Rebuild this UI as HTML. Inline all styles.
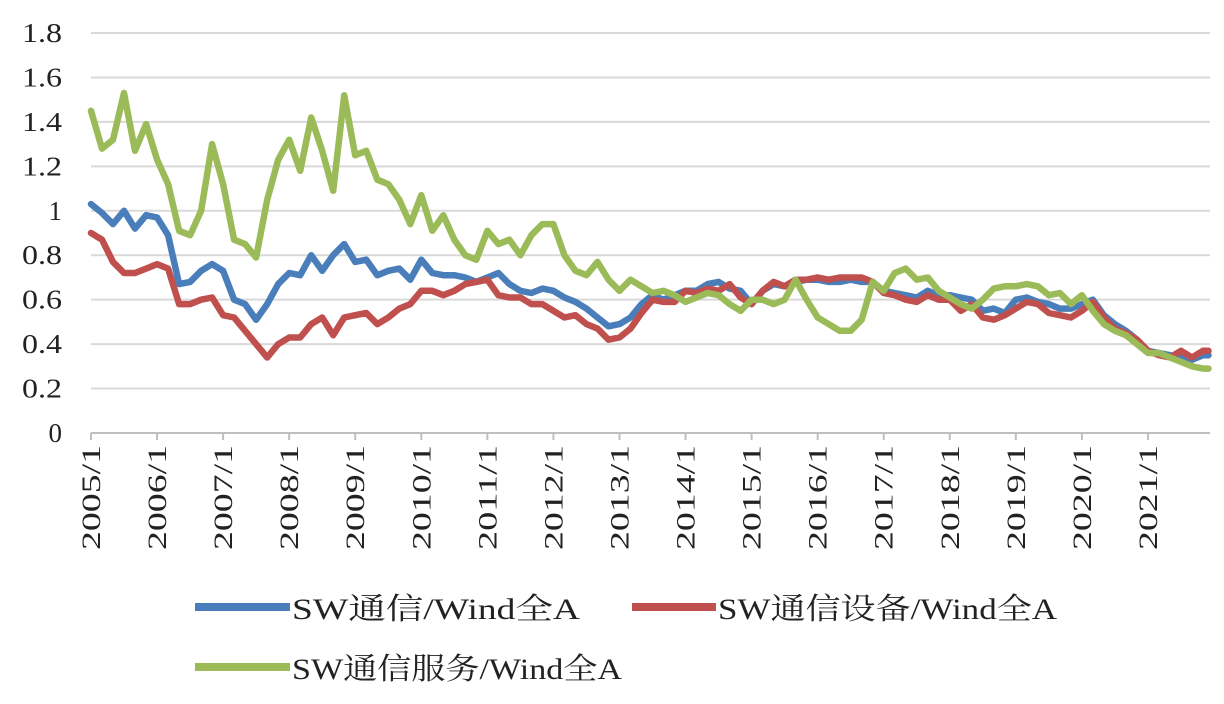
<!DOCTYPE html>
<html><head><meta charset="utf-8">
<style>
html,body{margin:0;padding:0;background:#fff;}
svg text{font-family:"Liberation Serif","Noto Serif CJK SC",serif;fill:#222;}
</style></head>
<body>
<svg id="chart" width="1224" height="699" viewBox="0 0 1224 699" xmlns="http://www.w3.org/2000/svg">
<g id="grid"></g>
<g id="yaxis"></g>
<g id="xaxis"></g>
<g id="series"></g>
<g>
  <g>
    <line x1="195" y1="607" x2="290" y2="607" stroke="#4a7ebb" stroke-width="8"/>
    <text x="292" y="619" font-size="30" textLength="288" lengthAdjust="spacingAndGlyphs">SW通信/Wind全A</text>
  </g>
  <g>
    <line x1="632" y1="607" x2="716" y2="607" stroke="#c0504d" stroke-width="8"/>
    <text x="718" y="619" font-size="30" textLength="339" lengthAdjust="spacingAndGlyphs">SW通信设备/Wind全A</text>
  </g>
  <g>
    <line x1="195" y1="667" x2="290" y2="667" stroke="#9bbb59" stroke-width="8"/>
    <text x="292" y="679" font-size="30" textLength="330" lengthAdjust="spacingAndGlyphs">SW通信服务/Wind全A</text>
  </g>
</g>
</svg>
<script>
const yTicks = [0,0.2,0.4,0.6,0.8,1,1.2,1.4,1.6,1.8];
const yTickLabels = ["0","0.2","0.4","0.6","0.8","1","1.2","1.4","1.6","1.8"];
const xTickLabels = ["2005/1","2006/1","2007/1","2008/1","2009/1","2010/1","2011/1","2012/1","2013/1","2014/1","2015/1","2016/1","2017/1","2018/1","2019/1","2020/1","2021/1"];
const telecom = [1.03,0.99,0.94,1.0,0.92,0.98,0.97,0.89,0.67,0.68,0.73,0.76,0.73,0.60,0.58,0.51,0.58,0.67,0.72,0.71,0.80,0.73,0.80,0.85,0.77,0.78,0.71,0.73,0.74,0.69,0.78,0.72,0.71,0.71,0.70,0.68,0.70,0.72,0.67,0.64,0.63,0.65,0.64,0.61,0.59,0.56,0.52,0.48,0.49,0.52,0.58,0.62,0.60,0.62,0.64,0.64,0.67,0.68,0.65,0.64,0.58,0.64,0.67,0.66,0.68,0.69,0.69,0.68,0.68,0.69,0.68,0.68,0.64,0.63,0.62,0.61,0.64,0.62,0.62,0.61,0.60,0.55,0.56,0.54,0.60,0.61,0.59,0.58,0.56,0.56,0.58,0.60,0.53,0.49,0.46,0.42,0.37,0.36,0.35,0.34,0.33,0.35,0.35];
const equipment = [0.90,0.87,0.77,0.72,0.72,0.74,0.76,0.74,0.58,0.58,0.60,0.61,0.53,0.52,0.46,0.40,0.34,0.40,0.43,0.43,0.49,0.52,0.44,0.52,0.53,0.54,0.49,0.52,0.56,0.58,0.64,0.64,0.62,0.64,0.67,0.68,0.69,0.62,0.61,0.61,0.58,0.58,0.55,0.52,0.53,0.49,0.47,0.42,0.43,0.47,0.54,0.60,0.59,0.59,0.64,0.63,0.65,0.64,0.67,0.61,0.58,0.64,0.68,0.66,0.69,0.69,0.70,0.69,0.70,0.70,0.70,0.68,0.63,0.62,0.60,0.59,0.62,0.60,0.60,0.55,0.58,0.52,0.51,0.53,0.56,0.59,0.58,0.54,0.53,0.52,0.55,0.59,0.52,0.47,0.45,0.42,0.37,0.35,0.34,0.37,0.34,0.37,0.37];
const services = [1.45,1.28,1.32,1.53,1.27,1.39,1.23,1.12,0.91,0.89,1.0,1.30,1.12,0.87,0.85,0.79,1.05,1.23,1.32,1.18,1.42,1.27,1.09,1.52,1.25,1.27,1.14,1.12,1.05,0.94,1.07,0.91,0.98,0.87,0.80,0.78,0.91,0.85,0.87,0.80,0.89,0.94,0.94,0.80,0.73,0.71,0.77,0.69,0.64,0.69,0.66,0.63,0.64,0.62,0.59,0.61,0.63,0.62,0.58,0.55,0.60,0.60,0.58,0.60,0.69,0.60,0.52,0.49,0.46,0.46,0.51,0.68,0.64,0.72,0.74,0.69,0.70,0.64,0.61,0.58,0.56,0.60,0.65,0.66,0.66,0.67,0.66,0.62,0.63,0.58,0.62,0.55,0.49,0.46,0.44,0.40,0.36,0.36,0.34,0.32,0.30,0.29,0.29];
const months = [];
for (let i = 0; i < telecom.length - 1; i++) months.push(i * 2);
months.push(203);

const NS = "http://www.w3.org/2000/svg";
const x0 = 91, pxPerMonth = 66.06 / 12, yBase = 433, pxPerUnit = 222.2;
const xScale = m => x0 + m * pxPerMonth;
const yScale = v => yBase - v * pxPerUnit;
function mk(tag, attrs, parent) {
  const el = document.createElementNS(NS, tag);
  for (const k in attrs) el.setAttribute(k, attrs[k]);
  parent.appendChild(el);
  return el;
}
const grid = document.getElementById('grid');
const yaxis = document.getElementById('yaxis');
const xaxis = document.getElementById('xaxis');
const series = document.getElementById('series');

yTicks.forEach((v, i) => {
  if (v > 0) {
    const g = mk('line', {x1: x0, x2: 1210, y1: yScale(v), y2: yScale(v), stroke: '#d9d9d9', 'stroke-width': 2}, grid);
    
    
  }
  const lab = yTickLabels[i];
  const attrs = {x: 62, y: yScale(v) + 9, 'text-anchor': 'end', 'font-size': 27};
  if (lab.length === 3) { attrs.textLength = 40; attrs.lengthAdjust = 'spacingAndGlyphs'; }
  const t = mk('text', attrs, yaxis);
  
  
  t.textContent = lab;
});

const ax = mk('line', {x1: x0, x2: 1210, y1: yBase, y2: yBase, stroke: '#bfbfbf', 'stroke-width': 2}, xaxis);


xTickLabels.forEach((lab, k) => {
  const x = xScale(k * 12);
  const tk = mk('line', {x1: x, x2: x, y1: yBase, y2: yBase + 7, stroke: '#bfbfbf', 'stroke-width': 2}, xaxis);
  
  
  const t = mk('text', {x: 0, y: 0, 'text-anchor': 'end', 'font-size': 26, textLength: 105, lengthAdjust: 'spacingAndGlyphs', transform: `translate(${x + 9},${yBase + 12}) rotate(-90)`}, xaxis);
  
  
  t.textContent = lab;
});

function drawLine(vals, color, name) {
  const d = vals.map((v, i) => (i ? 'L' : 'M') + xScale(months[i]).toFixed(1) + ',' + yScale(v).toFixed(1)).join(' ');
  const p = mk('path', {d, fill: 'none', stroke: color, 'stroke-width': 6.5, 'stroke-linejoin': 'round', 'stroke-linecap': 'round'}, series);
  
  
}
drawLine(telecom, '#4a7ebb', 'line-sw-telecom');
drawLine(equipment, '#c0504d', 'line-sw-equipment');
drawLine(services, '#9bbb59', 'line-sw-services');
</script>
</body></html>
